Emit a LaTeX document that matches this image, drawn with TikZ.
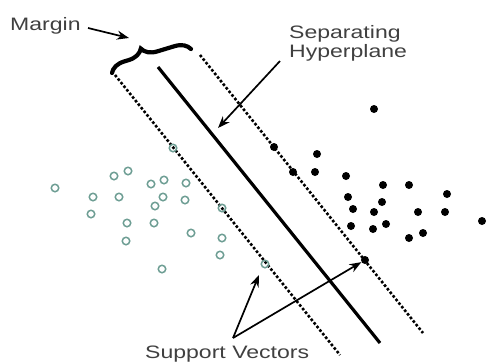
\documentclass[tikz,border=0pt]{standalone}
\usepackage{fontspec}
\setmainfont{Liberation Sans}
\usetikzlibrary{decorations.pathreplacing,arrows.meta}
\definecolor{teal1}{RGB}{110,158,148}
\tikzset{
  oc/.style={circle,draw=teal1,line width=1.5pt,minimum size=7.5pt,inner sep=0pt},
  fc/.style={circle,fill=black,minimum size=8pt,inner sep=0pt},
  lbl/.style={font=\fontsize{18}{20}\selectfont,text=black!75,inner sep=0pt},
  dotline/.style={line width=2.6pt,dash pattern=on 2.6pt off 2pt},
  ptr/.style={line width=1.7pt,-{Stealth[length=12pt,width=9pt]}}
}
\newcommand{\wide}[1]{\scalebox{1.28}[1]{#1}}
\begin{document}
\begin{tikzpicture}[x=1pt,y=-1pt]
\useasboundingbox (0,0) rectangle (488,362);
% margins lines
\coordinate (l1) at (115,75); \coordinate (l2) at (340,355);
\coordinate (h1) at (158,67); \coordinate (h2) at (380,343);
\coordinate (r1) at (200,55); \coordinate (r2) at (423,333);
\draw[dotline] (l1) -- (l2);
\draw[dotline] (r1) -- (r2);
\draw[line width=3.2pt] (h1) -- (h2);
% brace
\coordinate (b1) at (112,73); \coordinate (b2) at (191,49);
\draw[line width=4.2pt,line cap=round,decorate,decoration={brace,amplitude=15pt,aspect=0.42}] (b1) -- (b2);
% open circles
\foreach \p [count=\i] in {(55,188),(114,176),(128,171),(93,197),(119,197),(91,214),(151,184),(164,180),(186,183),(163,197),(155,206),(185,200),(127,223),(154,223),(126,241),(191,233),(222,238),(220,255),(162,269),(222,208),(173,148)}
  \node[oc] (o\i) at \p {};
\node[oc] (svo) at (265,264) {};
% filled dots
\foreach \p [count=\i] in {(374,109),(274,147),(317,154),(293,172),(315,172),(346,176),(383,185),(409,185),(447,194),(348,197),(382,202),(353,209),(374,212),(418,212),(445,212),(482,221),(351,226),(373,229),(386,224),(409,238),(423,233)}
  \node[fc] (f\i) at \p {};
\node[fc] (svf) at (365,260) {};
% labels
\node[lbl,anchor=base west] (margin) at (10,30) {\wide{Margin}};
\node[lbl,anchor=base west,align=left] (sep) at (289,57) {\wide{Separating}\\[-1.5pt]\wide{Hyperplane}};
\node[lbl,anchor=base west] (sv) at (145,358) {\wide{Support Vectors}};
% arrows
\coordinate (marr) at (88,28); \coordinate (mtip) at (129,38);
\draw[ptr] (marr) -- (mtip);
\coordinate (harr) at (280,61); \coordinate (htip) at (218,128);
\draw[ptr] (harr) -- (htip);
\coordinate (svroot) at (233,338);
\draw[ptr] (svroot) -- (259,275);
\draw[ptr] (svroot) -- (svf);
\end{tikzpicture}
\end{document}
